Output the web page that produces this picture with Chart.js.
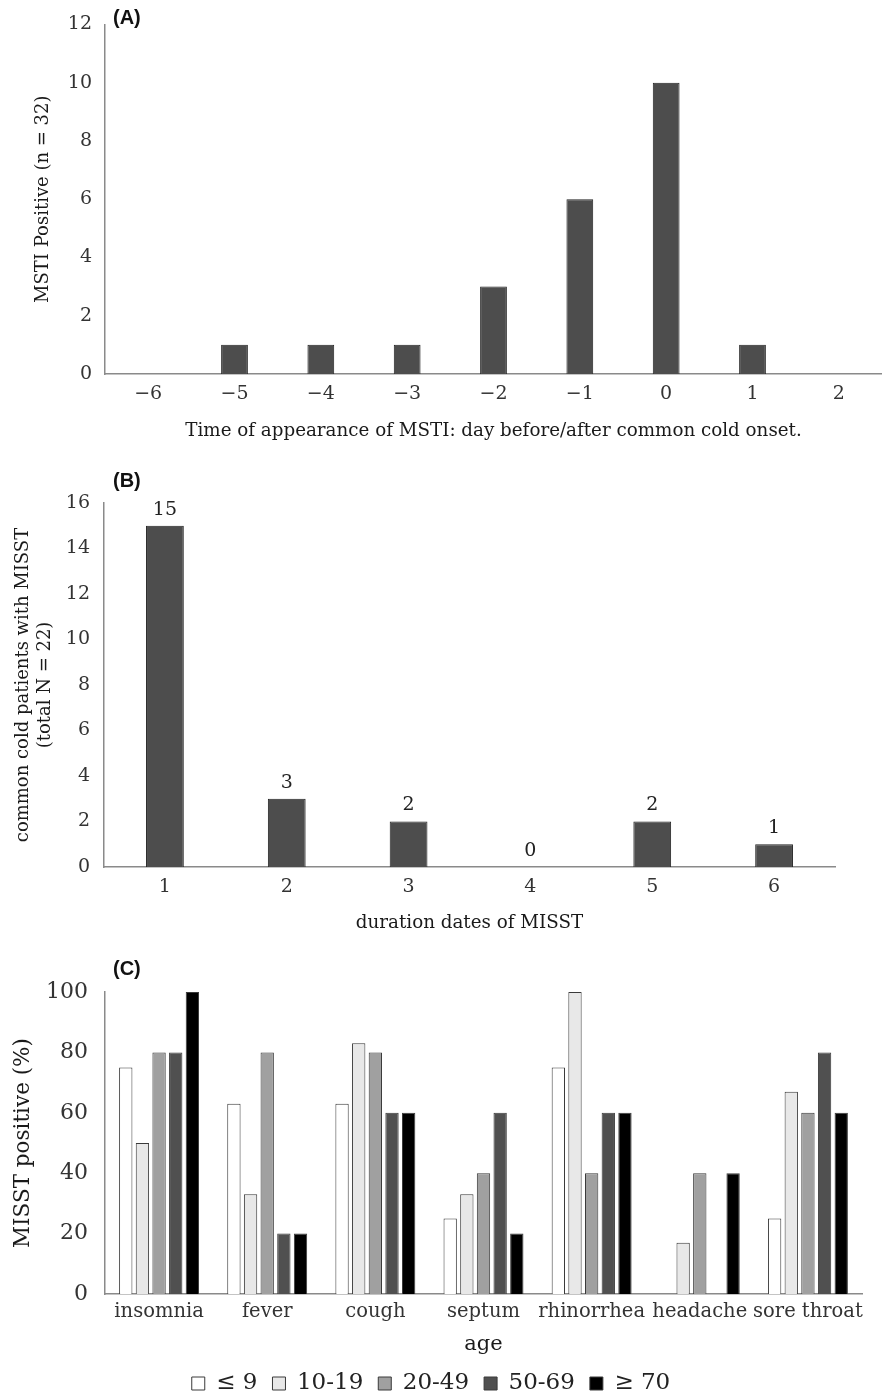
<!DOCTYPE html>
<html>
<head>
<meta charset="utf-8">
<script src="https://cdn.jsdelivr.net/npm/chart.js@4.4.1/dist/chart.umd.min.js"></script>
<style>
  html, body { margin: 0; padding: 0; background: #fff; overflow: hidden; }
  #page { position: relative; width: 882px; height: 1393px; overflow: hidden; }
  .panel { position: absolute; left: 0; width: 882px; }
  .tag { position: absolute; left: 113px; font: bold 20px "Liberation Sans", Arial, sans-serif; color: #111; }
</style>
</head>
<body>
<div id="page">
  <div class="panel" style="top:0;height:446px"><canvas id="chartA" width="882" height="446"></canvas></div>
  <div class="panel" style="top:446px;height:494px"><canvas id="chartB" width="882" height="494"></canvas></div>
  <div class="panel" style="top:940px;height:465px"><canvas id="chartC" width="882" height="465"></canvas></div>
  <div class="tag" style="top:6px">(A)</div>
  <div class="tag" style="top:469px">(B)</div>
  <div class="tag" style="top:957px">(C)</div>
</div>
<script>
// ── data ─────────────────────────────────────────────
const dayLabels   = ['\u22126', '\u22125', '\u22124', '\u22123', '\u22122', '\u22121', '0', '1', '2'];
const mstiCounts  = [0, 1, 1, 1, 3, 6, 10, 1, 0];

const durationLabels = ['1', '2', '3', '4', '5', '6'];
const misstCounts    = [15, 3, 2, 0, 2, 1];

const symptoms   = ['insomnia', 'fever', 'cough', 'septum', 'rhinorrhea', 'headache', 'sore throat'];
const ageGroups  = ['\u2264 9', '10-19', '20-49', '50-69', '\u2265 70'];
const age0to9    = [75, 63, 63, 25, 75, 0, 25];
const age10to19  = [50, 33, 83, 33, 100, 17, 67];
const age20to49  = [80, 80, 80, 40, 40, 40, 60];
const age50to69  = [80, 20, 60, 60, 60, 0, 80];
const age70plus  = [100, 20, 60, 20, 60, 40, 60];

// ── shared styling ───────────────────────────────────
const SERIF     = "'DejaVu Serif', 'Liberation Serif', serif";
const tickColor = '#333';
const axisColor = '#8a8a8a';
const barFill   = '#4d4d4d';
const barEdge   = '#222';

Chart.defaults.font.family = SERIF;
Chart.defaults.color = tickColor;

function fixWidth(w)  { return scale => { scale.width = w; }; }
function fixHeight(h) { return scale => { scale.height = h; }; }

function xScale(opts) {
  return {
    grid:   { display: false, drawTicks: false },
    border: { display: true, color: axisColor, width: 1.5 },
    ticks:  { padding: opts.tickPad, font: { size: opts.tickSize }, color: tickColor, maxRotation: 0, autoSkip: false },
    title:  { display: !!opts.title, text: opts.title, color: '#1a1a1a', font: { size: opts.titleSize },
              padding: { top: 4, bottom: opts.titleBottom !== undefined ? opts.titleBottom : 4 } },
    afterFit: fixHeight(opts.height),
  };
}

function yScale(opts) {
  return {
    min: 0, max: opts.max,
    grid:   { display: false, drawTicks: false },
    border: { display: true, color: axisColor, width: 1.5 },
    ticks:  { stepSize: opts.step, padding: opts.tickPad, font: { size: opts.tickSize }, color: tickColor },
    title:  { display: true, text: opts.title, color: '#1a1a1a', font: { size: opts.titleSize, lineHeight: opts.titleLH || 1.2 }, padding: { top: opts.titlePad, bottom: 0 } },
    afterFit: fixWidth(opts.width),
  };
}

// Value labels above bars (panel B)
const valueLabels = {
  id: 'valueLabels',
  afterDatasetsDraw(chart) {
    const { ctx } = chart;
    const meta = chart.getDatasetMeta(0);
    ctx.save();
    ctx.font = `19px ${SERIF}`;
    ctx.fillStyle = '#222';
    ctx.textAlign = 'center';
    ctx.textBaseline = 'middle';
    meta.data.forEach((bar, i) => {
      ctx.fillText(String(chart.data.datasets[0].data[i]), bar.x, bar.y - 16);
    });
    ctx.restore();
  },
};

const noAnim = { animation: false, responsive: false, events: [] };

// ── (A) time of appearance ──────────────────────────
new Chart(document.getElementById('chartA'), {
  type: 'bar',
  data: {
    labels: dayLabels,
    datasets: [{
      data: mstiCounts,
      backgroundColor: barFill,
      borderColor: barEdge,
      borderWidth: 1,
      categoryPercentage: 1,
      barPercentage: 0.31,
    }],
  },
  options: {
    ...noAnim,
    layout: { padding: { top: 18, right: 0, left: 0, bottom: 0 } },
    plugins: { legend: { display: false }, tooltip: { enabled: false } },
    scales: {
      x: xScale({ tickPad: 9, tickSize: 19, title: 'Time of appearance of MSTI: day before/after common cold onset.', titleSize: 18.3, height: 72 }),
      y: yScale({ max: 12, step: 2, tickPad: 13, tickSize: 19, title: 'MSTI Positive (n = 32)', titleSize: 18, titlePad: 33, width: 105 }),
    },
  },
});

// ── (B) duration ────────────────────────────────────
new Chart(document.getElementById('chartB'), {
  type: 'bar',
  plugins: [valueLabels],
  data: {
    labels: durationLabels,
    datasets: [{
      data: misstCounts,
      backgroundColor: barFill,
      borderColor: barEdge,
      borderWidth: 1,
      categoryPercentage: 1,
      barPercentage: 0.31,
    }],
  },
  options: {
    ...noAnim,
    layout: { padding: { top: 57, right: 47, left: 0, bottom: 2 } },
    plugins: { legend: { display: false }, tooltip: { enabled: false } },
    scales: {
      x: xScale({ tickPad: 9, tickSize: 19, title: 'duration dates of MISST', titleSize: 18.3, height: 71 }),
      y: yScale({ max: 16, step: 2, tickPad: 14, tickSize: 19, title: ['common cold patients with MISST', '(total N = 22)'], titleSize: 18, titleLH: 1.2, titlePad: 13, width: 104 }),
    },
  },
});

// ── (C) symptoms by age ─────────────────────────────
const ageSeries = [age0to9, age10to19, age20to49, age50to69, age70plus];
const ageFills  = ['#ffffff', '#e8e8e8', '#a0a0a0', '#505050', '#000000'];

new Chart(document.getElementById('chartC'), {
  type: 'bar',
  data: {
    labels: symptoms,
    datasets: ageSeries.map((vals, i) => ({
      label: ageGroups[i],
      data: vals,
      backgroundColor: ageFills[i],
      borderColor: '#3a3a3a',
      borderWidth: 1,
      categoryPercentage: 0.77,
      barPercentage: 0.8,
    })),
  },
  options: {
    ...noAnim,
    layout: { padding: { top: 52, right: 20, left: 0, bottom: 0 } },
    plugins: {
      tooltip: { enabled: false },
      legend: {
        position: 'bottom',
        labels: { boxWidth: 13, boxHeight: 13, padding: 15, color: '#222', font: { size: 23 } },
      },
    },
    scales: {
      x: xScale({ tickPad: 6, tickSize: 19.5, title: 'age', titleSize: 21, titleBottom: 0, height: 63 }),
      y: yScale({ max: 100, step: 20, tickPad: 17, tickSize: 22, title: 'MISST positive (%)', titleSize: 21.5, titlePad: 11, width: 105 }),
    },
  },
});
</script>
</body>
</html>
